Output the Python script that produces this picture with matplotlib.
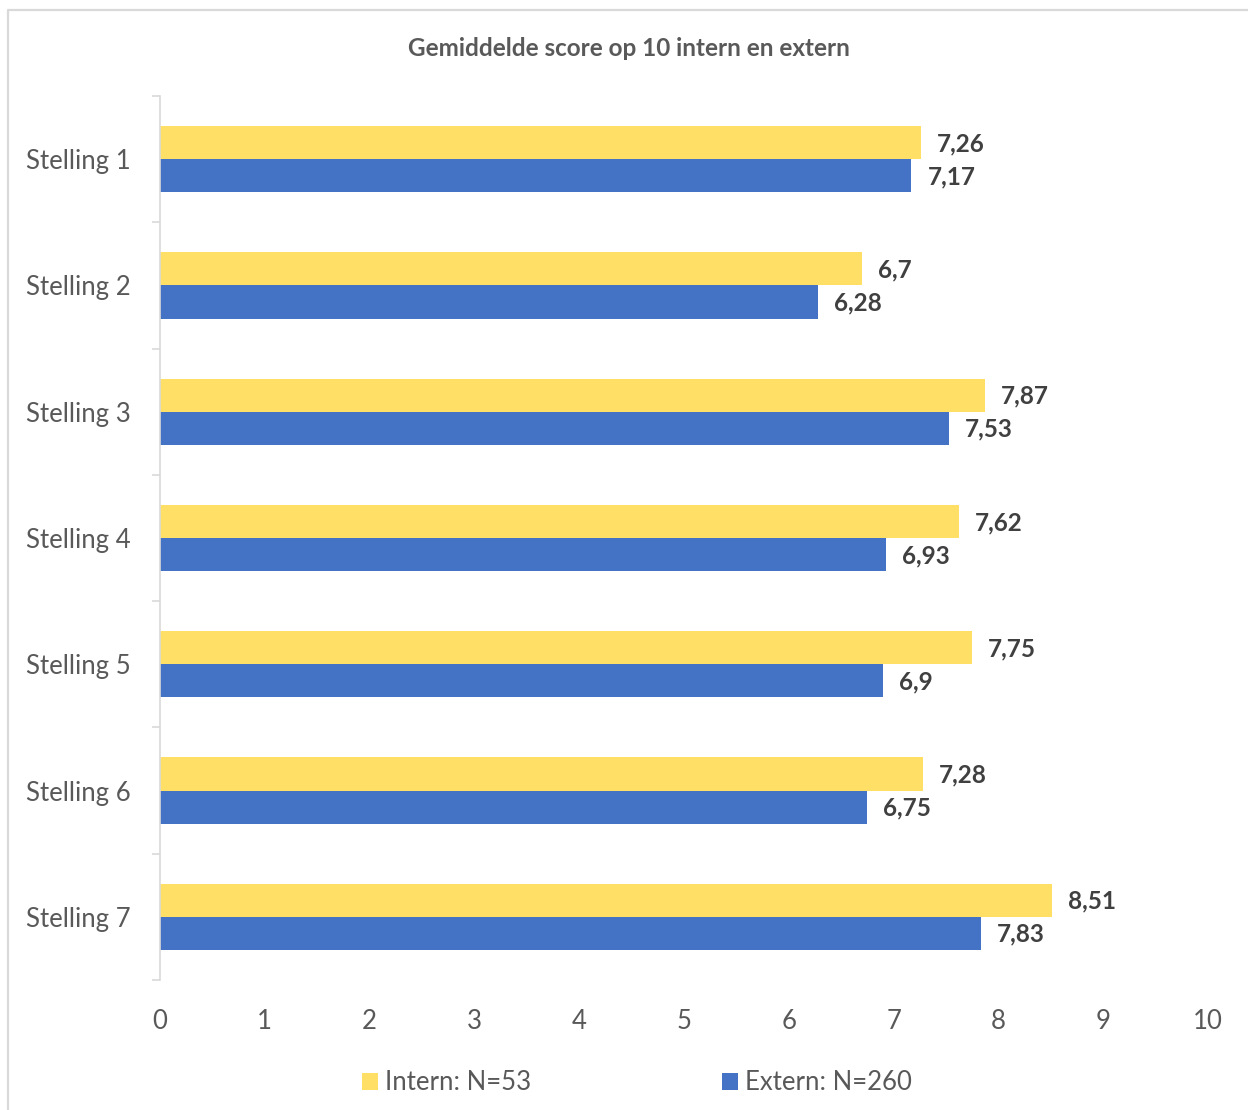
import matplotlib
matplotlib.use("Agg")
import matplotlib.pyplot as plt
from matplotlib.lines import Line2D
import numpy as np

plt.rcParams['font.family'] = ['Lato', 'DejaVu Sans']

categories = ["Stelling 1", "Stelling 2", "Stelling 3", "Stelling 4", "Stelling 5", "Stelling 6", "Stelling 7"]
intern = [7.26, 6.7, 7.87, 7.62, 7.75, 7.28, 8.51]
extern = [7.17, 6.28, 7.53, 6.93, 6.9, 6.75, 7.83]
intern_label = "Intern: N=53"
extern_label = "Extern: N=260"
title = "Gemiddelde score op 10 intern en extern"
xticks = [0, 1, 2, 3, 4, 5, 6, 7, 8, 9, 10]

YELLOW = "#FFDF66"
BLUE = "#4472C4"
GREY = "#595959"
LABEL = "#404040"
FRAME = "#D9D9D9"

W, H = 1248, 1110
fig = plt.figure(figsize=(W / 100, H / 100), dpi=100)

# outer chart frame (only left and top edges visible)
fig.lines.append(Line2D([7.5 / W, 7.5 / W, 1.0], [0.0, 1 - 9.5 / H, 1 - 9.5 / H],
                        transform=fig.transFigure, color=FRAME, linewidth=1.6))

ax = fig.add_axes([160 / W, 1 - 980 / H, 1048 / W, 884 / H])

y = np.arange(len(categories))
h = 0.262
ax.barh(y - h / 2, intern, height=h, color=YELLOW, label=intern_label)
ax.barh(y + h / 2, extern, height=h, color=BLUE, label=extern_label)

def fmt(v):
    s = ("%.2f" % v).rstrip("0").rstrip(".")
    return s.replace(".", ",")

for yi, v in zip(y - h / 2, intern):
    ax.annotate(fmt(v), (v, yi), xytext=(16, -1), textcoords="offset pixels",
                va="center", ha="left", fontsize=17.5, fontweight="bold", color=LABEL)
for yi, v in zip(y + h / 2, extern):
    ax.annotate(fmt(v), (v, yi), xytext=(16, -1), textcoords="offset pixels",
                va="center", ha="left", fontsize=17.5, fontweight="bold", color=LABEL)

ax.set_xlim(0, 10)
ax.set_ylim(len(categories) - 0.5, -0.5)
ax.set_xticks(xticks)
ax.set_xticklabels([str(t) for t in xticks], fontsize=18.5, color=GREY)
ax.tick_params(axis="x", length=0, pad=21)

# category boundaries as major ticks, labels as minor ticks
ax.set_yticks(np.arange(-0.5, len(categories), 1.0))
ax.set_yticklabels([])
ax.set_yticks(y, minor=True)
ax.set_yticklabels(categories, minor=True, fontsize=18.5, color=GREY)
ax.tick_params(axis="y", which="major", length=6, color=FRAME, width=1.2, direction="out")
ax.tick_params(axis="y", which="minor", length=0, pad=21)

for s in ["top", "right", "bottom"]:
    ax.spines[s].set_visible(False)
ax.spines["left"].set_color(FRAME)
ax.spines["left"].set_linewidth(1.2)

fig.text(629 / W, 1 - 48 / H, title, ha="center", va="center", fontsize=17.5,
         fontweight="bold", color=GREY)

leg = fig.legend(loc="center", bbox_to_anchor=(637 / W, 1 - 1083 / H), ncol=2, frameon=False,
                 fontsize=18.5, labelcolor=GREY, handlelength=0.62, handleheight=0.62,
                 handletextpad=0.3, columnspacing=7.4)

fig.savefig("out.png", dpi=100, facecolor="white")
